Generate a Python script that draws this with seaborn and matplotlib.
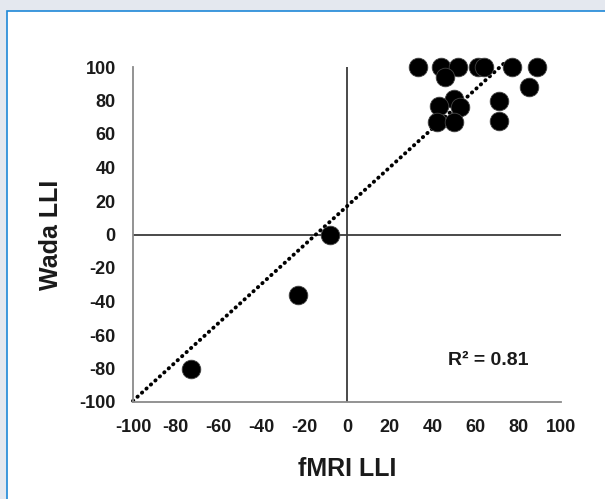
import numpy as np
import pandas as pd
import matplotlib
matplotlib.use("Agg")
import matplotlib.pyplot as plt
import seaborn as sns
from matplotlib.patches import Rectangle

# values
fmri_lli = [33, 44, 52, 61, 64, 77, 89, 46, 85, 50, 43, 53, 71, 42, 50, 71, -8, -23, -73]
wada_lli = [100, 100, 100, 100, 100, 100, 100, 94, 88, 81, 77, 76, 80, 67, 67, 68, 0, -36, -80]
trend_range = [-100, 75]
ticks = list(range(-100, 101, 20))
r2_label = "R\u00b2 = 0.81"

df = pd.DataFrame({"fMRI LLI": fmri_lli, "Wada LLI": wada_lli})

sns.set_style("white")
plt.rcParams["font.family"] = ["Liberation Sans", "DejaVu Sans"]
plt.rcParams["axes.unicode_minus"] = False

fig = plt.figure(figsize=(6.05, 4.99), dpi=100, facecolor="#e4e8ef")
# white panel with blue frame (runs off the right/bottom edges)
fig.patches.append(Rectangle((7 / 605, -0.1), 1.2, 1.1 - 11.5 / 499,
                             transform=fig.transFigure, facecolor="white",
                             edgecolor="#1e88d8", linewidth=1.2, zorder=-10))
ax = fig.add_axes([133 / 605, 97 / 499, 428 / 605, 335 / 499])
ax.set_facecolor("white")

# crosshair at zero
ax.axhline(0, color="#3a3a3a", lw=1.3, zorder=1)
ax.axvline(0, color="#3a3a3a", lw=1.3, zorder=1)

# least squares trendline
slope, intercept = np.polyfit(df["fMRI LLI"], df["Wada LLI"], 1)
tx = np.array(trend_range, dtype=float)
ax.plot(tx, slope * tx + intercept, color="black", lw=2.8,
        linestyle=(0, (0.1, 1.45)), dash_capstyle="round", zorder=2, clip_on=False)

sns.scatterplot(data=df, x="fMRI LLI", y="Wada LLI", ax=ax, s=180, color="black",
                edgecolor="#444444", linewidth=0.6, zorder=3, clip_on=False)

ax.set_xlim(-100, 100)
ax.set_ylim(-100, 100)
ax.set_xticks(ticks)
ax.set_yticks(ticks)
for sp in ["top", "right"]:
    ax.spines[sp].set_visible(False)
for sp in ["left", "bottom"]:
    ax.spines[sp].set_color("#8a8a8a")
    ax.spines[sp].set_linewidth(1.3)
ax.tick_params(direction="inout", length=9, width=1.1, color="#8a8a8a",
               labelsize=13, pad=8, labelcolor="#1a1a1a")
for lab in ax.get_xticklabels() + ax.get_yticklabels():
    lab.set_fontweight("bold")

ax.set_xlabel("fMRI LLI", fontsize=18, fontweight="bold", labelpad=15, color="#1a1a1a")
ax.set_ylabel("Wada LLI", fontsize=18, fontweight="bold", labelpad=12, color="#1a1a1a")
ax.text(47, -75.5, r2_label, fontsize=14, fontweight="bold", va="center", ha="left",
        color="#1a1a1a")

fig.savefig("out.png", dpi=100, facecolor=fig.get_facecolor())
